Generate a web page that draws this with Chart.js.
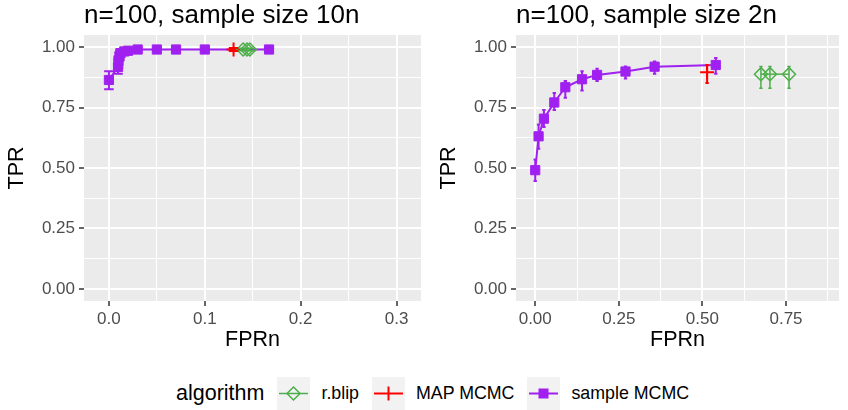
<!DOCTYPE html>
<html>
<head>
<meta charset="utf-8">
<script src="https://cdn.jsdelivr.net/npm/chart.js@4.4.0/dist/chart.umd.min.js"></script>
<style>
  body { margin: 0; background: #fff; width: 848px; height: 410px; overflow: hidden; position: relative;
         font-family: "Liberation Sans", Arial, sans-serif; }
  .panel { position: absolute; top: 0; }
  #legend { position: absolute; left: 176px; top: 376px; height: 34px; display: flex; align-items: center; }
  #legend .ttl { font-size: 21.5px; color: #000; margin-right: 13px; }
  #legend .key { width: 33px; height: 33px; background: #F2F2F2; }
  #legend .lab { font-size: 17.8px; color: #000; margin-left: 11px; margin-right: 13px; }
</style>
</head>
<body>
<div class="panel" style="left:0px;"><canvas id="p1" width="430" height="360"></canvas></div>
<div class="panel" style="left:432px;"><canvas id="p2" width="416" height="360"></canvas></div>
<div id="legend"></div>

<script>
const FONT = "'Liberation Sans', Arial, sans-serif";
Chart.defaults.font.family = FONT;

// names and colours of the algorithm groups
const algos = ['r.blip', 'MAP MCMC', 'sample MCMC'];
const algoColors = ['#4DAF4A', '#FF0000', '#A020F0'];

// y axis (same for both panels)
const yMajor = [0, 0.25, 0.5, 0.75, 1];
const yLabels = ['0.00', '0.25', '0.50', '0.75', '1.00'];
const yMinor = [0.125, 0.375, 0.625, 0.875];

// panel 1: sample size 10n
const p1XMajor = [0, 0.1, 0.2, 0.3];
const p1XLabels = ['0.0', '0.1', '0.2', '0.3'];
const p1XMinor = [0.05, 0.15, 0.25];
const p1BlipX = [0.140, 0.144, 0.147];
const p1BlipY = [0.990, 0.990, 0.990];
const p1BlipLo = [0.985, 0.985, 0.985];
const p1BlipHi = [0.995, 0.995, 0.995];
const p1MapX = [0.130];
const p1MapY = [0.990];
const p1MapLo = [0.984];
const p1MapHi = [0.996];
const p1SampX = [0.000, 0.0095, 0.010, 0.011, 0.012, 0.016, 0.020, 0.030, 0.050, 0.070, 0.100, 0.167];
const p1SampY = [0.864, 0.918, 0.942, 0.962, 0.975, 0.982, 0.985, 0.990, 0.990, 0.990, 0.990, 0.990];
const p1SampLo = [0.826, 0.890, 0.915, 0.945, 0.960, 0.972, 0.977, 0.985, 0.986, 0.986, 0.986, 0.986];
const p1SampHi = [0.900, 0.948, 0.962, 0.978, 0.988, 0.990, 0.992, 0.995, 0.994, 0.994, 0.994, 0.994];

// panel 2: sample size 2n
const p2XMajor = [0, 0.25, 0.5, 0.75];
const p2XLabels = ['0.00', '0.25', '0.50', '0.75'];
const p2XMinor = [0.125, 0.375, 0.625, 0.875];
const p2BlipX = [0.675, 0.702, 0.759];
const p2BlipY = [0.888, 0.888, 0.888];
const p2BlipLo = [0.830, 0.830, 0.830];
const p2BlipHi = [0.920, 0.920, 0.920];
const p2MapX = [0.514];
const p2MapY = [0.896];
const p2MapLo = [0.851];
const p2MapHi = [0.926];
const p2SampX = [0.000, 0.010, 0.026, 0.057, 0.090, 0.140, 0.185, 0.270, 0.357, 0.540];
const p2SampY = [0.491, 0.631, 0.704, 0.771, 0.834, 0.867, 0.885, 0.899, 0.919, 0.926];
const p2SampLo = [0.446, 0.580, 0.670, 0.740, 0.790, 0.820, 0.860, 0.870, 0.890, 0.890];
const p2SampHi = [0.535, 0.680, 0.740, 0.810, 0.860, 0.900, 0.910, 0.920, 0.940, 0.955];

const ERR_W = 0.01; // errorbar width, data units

function pts(xs, ys) {
    return xs.map((x, i) => ({ x: x, y: ys[i] }));
}
// vertical bar + two caps per point, split by null gaps
function errorBars(xs, lo, hi) {
    let out = [];
    xs.forEach((x, i) => {
        out.push({ x: x, y: lo[i] }, { x: x, y: hi[i] }, { x: x, y: null });
        out.push({ x: x - ERR_W / 2, y: lo[i] }, { x: x + ERR_W / 2, y: lo[i] }, { x: x, y: null });
        out.push({ x: x - ERR_W / 2, y: hi[i] }, { x: x + ERR_W / 2, y: hi[i] }, { x: x, y: null });
    });
    return out;
}

const panelBg = {
    id: 'panelBg',
    beforeDraw(chart) {
        const { ctx, chartArea: a } = chart;
        ctx.save();
        ctx.fillStyle = '#EBEBEB';
        ctx.fillRect(a.left, a.top, a.right - a.left, a.bottom - a.top);
        ctx.restore();
    }
};

function isIn(arr, v) {
    return arr.some(m => Math.abs(m - v) < 1e-9);
}

function axis(major, labels, minor, min, max, titleText, isX) {
    return {
        type: 'linear',
        min: min,
        max: max,
        bounds: 'data',
        afterBuildTicks: (s) => {
            s.ticks = major.concat(minor).sort((a, b) => a - b).map(v => ({ value: v }));
        },
        afterFit: (s) => {
            if (isX) s.height = 59; else s.width = 84;
        },
        border: { display: false },
        grid: {
            color: '#FFFFFF',
            lineWidth: (c) => isIn(major, c.tick.value) ? 2 : 1,
            drawTicks: true,
            tickLength: 5,
            tickWidth: 1.5,
            tickColor: (c) => isIn(major, c.tick.value) ? '#333333' : 'rgba(0,0,0,0)'
        },
        ticks: {
            autoSkip: false,
            maxRotation: 0,
            padding: isX ? 3 : 4,
            color: '#4D4D4D',
            font: { size: 17 },
            callback: (v) => {
                let k = major.findIndex(m => Math.abs(m - v) < 1e-9);
                return k >= 0 ? labels[k] : '';
            }
        },
        title: {
            display: true,
            text: titleText,
            color: '#000000',
            font: { size: 21.5, lineHeight: 1 },
            padding: isX ? { top: 0, bottom: 9 } : { top: 6, bottom: 0 }
        }
    };
}

function makePanel(id, title, d, xr, padRight) {
    const datasets = [
        { label: 'err ' + algos[0], data: errorBars(d.blipX, d.blipLo, d.blipHi), showLine: true, spanGaps: false,
          borderColor: algoColors[0], borderWidth: 1.5, pointRadius: 0 },
        { label: 'err ' + algos[1], data: errorBars(d.mapX, d.mapLo, d.mapHi), showLine: true, spanGaps: false,
          borderColor: algoColors[1], borderWidth: 2, pointRadius: 0 },
        { label: 'err ' + algos[2], data: errorBars(d.sampX, d.sampLo, d.sampHi), showLine: true, spanGaps: false,
          borderColor: algoColors[2], borderWidth: 2, pointRadius: 0 },
        { label: algos[0], data: pts(d.blipX, d.blipY), showLine: true, borderColor: algoColors[0], borderWidth: 1.5,
          pointStyle: 'rectRot', pointRadius: 6.5, pointBorderWidth: 1.5, pointBackgroundColor: 'rgba(0,0,0,0)',
          pointBorderColor: algoColors[0] },
        { label: algos[1], data: pts(d.mapX, d.mapY), showLine: true, borderColor: algoColors[1], borderWidth: 2,
          pointStyle: 'cross', pointRadius: 7, pointBorderWidth: 2, pointBorderColor: algoColors[1] },
        { label: algos[2], data: pts(d.sampX, d.sampY), showLine: true, borderColor: algoColors[2], borderWidth: 2,
          pointStyle: 'rect', pointRadius: 6.5, pointBorderWidth: 1, pointBackgroundColor: algoColors[2],
          pointBorderColor: algoColors[2] }
    ];
    return new Chart(document.getElementById(id), {
        type: 'scatter',
        data: { datasets: datasets },
        plugins: [panelBg],
        options: {
            responsive: false,
            animation: false,
            layout: { padding: { left: 0, right: padRight, top: 0, bottom: 0 } },
            scales: {
                x: axis(xr.major, xr.labels, xr.minor, xr.min, xr.max, 'FPRn', true),
                y: axis(yMajor, yLabels, yMinor, -0.05, 1.05, 'TPR', false)
            },
            plugins: {
                legend: { display: false },
                tooltip: { enabled: false },
                title: {
                    display: true,
                    text: title,
                    align: 'start',
                    fullSize: false,
                    color: '#000000',
                    font: { size: 26, weight: 'normal', lineHeight: 1.2 },
                    padding: { top: 0, bottom: 3.8 }
                }
            }
        }
    });
}

makePanel('p1', 'n=100, sample size 10n',
    { blipX: p1BlipX, blipY: p1BlipY, blipLo: p1BlipLo, blipHi: p1BlipHi,
      mapX: p1MapX, mapY: p1MapY, mapLo: p1MapLo, mapHi: p1MapHi,
      sampX: p1SampX, sampY: p1SampY, sampLo: p1SampLo, sampHi: p1SampHi },
    { major: p1XMajor, labels: p1XLabels, minor: p1XMinor, min: -0.026, max: 0.3255 }, 7);

makePanel('p2', 'n=100, sample size 2n',
    { blipX: p2BlipX, blipY: p2BlipY, blipLo: p2BlipLo, blipHi: p2BlipHi,
      mapX: p2MapX, mapY: p2MapY, mapLo: p2MapLo, mapHi: p2MapHi,
      sampX: p2SampX, sampY: p2SampY, sampLo: p2SampLo, sampHi: p2SampHi },
    { major: p2XMajor, labels: p2XLabels, minor: p2XMinor, min: -0.0575, max: 0.9085 }, 8);

// legend (ggplot style, bottom)
const keySvg = [
    `<svg width="33" height="33"><line x1="2" y1="16.5" x2="31" y2="16.5" stroke="${algoColors[0]}" stroke-width="1.5"/>
     <polygon points="16.5,10 23,16.5 16.5,23 10,16.5" fill="none" stroke="${algoColors[0]}" stroke-width="1.5"/></svg>`,
    `<svg width="33" height="33"><line x1="2" y1="16.5" x2="31" y2="16.5" stroke="${algoColors[1]}" stroke-width="2"/>
     <line x1="16.5" y1="9.5" x2="16.5" y2="23.5" stroke="${algoColors[1]}" stroke-width="2"/></svg>`,
    `<svg width="33" height="33"><line x1="2" y1="16.5" x2="31" y2="16.5" stroke="${algoColors[2]}" stroke-width="2"/>
     <rect x="11.5" y="11.5" width="10" height="10" fill="${algoColors[2]}"/></svg>`
];
let lg = `<span class="ttl">algorithm</span>`;
algos.forEach((a, i) => {
    lg += `<div class="key">${keySvg[i]}</div><span class="lab">${a}</span>`;
});
document.getElementById('legend').innerHTML = lg;
</script>
</body>
</html>
